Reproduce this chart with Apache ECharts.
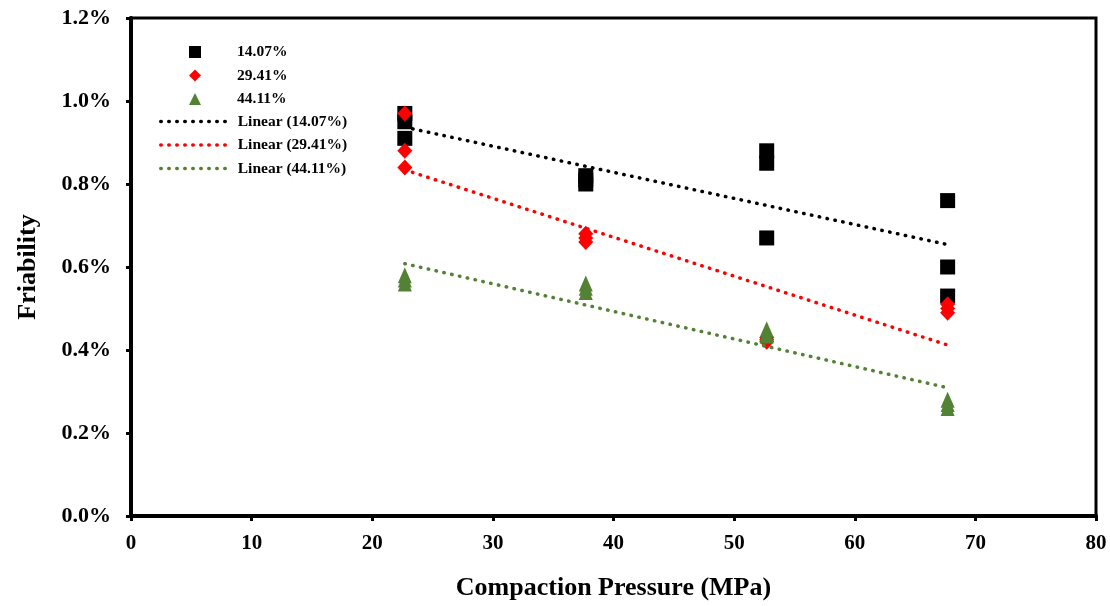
<!DOCTYPE html>
<html>
<head>
<meta charset="utf-8">
<script src="https://cdn.jsdelivr.net/npm/echarts@6/dist/echarts.min.js"></script>
<style>
  html, body { margin: 0; padding: 0; background: #fff; }
  #chart { width: 1110px; height: 606px; }
</style>
</head>
<body>
<div id="chart"></div>
<script>
// compaction pressure (MPa) and friability (%)
var pressures = [22.7, 37.7, 52.7, 67.7];
var fri1407 = [[0.97, 0.95, 0.91], [0.82, 0.81, 0.80], [0.88, 0.85, 0.67], [0.76, 0.60, 0.53]];
var fri2941 = [[0.97, 0.88, 0.84], [0.68, 0.67, 0.66], [0.43, 0.425, 0.42], [0.51, 0.50, 0.49]];
var fri4411 = [[0.58, 0.57, 0.56], [0.56, 0.55, 0.54], [0.45, 0.44, 0.435], [0.28, 0.27, 0.26]];
// trendline end points (first and last pressure)
var trendX = [22.7, 67.7];
var trend1407 = [0.937, 0.654];
var trend2941 = [0.834, 0.412];
var trend4411 = [0.608, 0.309];

var font = "'Liberation Serif', 'Times New Roman', serif";
var green = "#548235";

function points(groups) {
  var out = [];
  groups.forEach(function (g, i) {
    g.forEach(function (v) { out.push([pressures[i], v]); });
  });
  return out;
}
function trend(ys) {
  return trendX.map(function (x, i) { return [x, ys[i]]; });
}
function dotted(color) {
  return { color: color, width: 3.5, type: [0.5, 7.5], cap: "round" };
}
function lineItem(name, color) {
  return { name: name, itemStyle: { opacity: 0 }, lineStyle: dotted(color) };
}

var legendText = { fontFamily: font, fontWeight: "bold", fontSize: 15.5, color: "#000" };

var chart = echarts.init(document.getElementById("chart"));
chart.setOption({
  animation: false,
  grid: {
    left: 131, right: 14, top: 18, bottom: 86,
    show: true, borderColor: "#000", borderWidth: 3
  },
  legend: [{
    orient: "vertical",
    left: 184, top: 39,
    itemWidth: 12, itemHeight: 12, itemGap: 7.5,
    textStyle: Object.assign({ padding: [0, 0, 0, 31] }, legendText),
    data: ["14.07%", "29.41%", "44.11%"]
  }, {
    orient: "vertical",
    left: 154, top: 108.5,
    itemWidth: 72, itemHeight: 12, itemGap: 7.5,
    textStyle: legendText,
    data: [lineItem("Linear (14.07%)", "#000"), lineItem("Linear (29.41%)", "#ff0000"),
      lineItem("Linear (44.11%)", green)]
  }],
  xAxis: {
    type: "value", min: 0, max: 80, interval: 10,
    name: "Compaction Pressure (MPa)", nameLocation: "middle", nameGap: 59,
    nameTextStyle: { fontFamily: font, fontWeight: "bold", fontSize: 26, color: "#000" },
    axisLine: { lineStyle: { color: "#000", width: 4 } },
    axisTick: { length: 5, lineStyle: { color: "#000", width: 3 } },
    axisLabel: { margin: 17, fontFamily: font, fontWeight: "bold", fontSize: 21, color: "#000" },
    splitLine: { show: false }
  },
  yAxis: {
    type: "value", min: 0, max: 1.2, interval: 0.2,
    name: "Friability", nameLocation: "middle", nameGap: 90,
    nameTextStyle: { fontFamily: font, fontWeight: "bold", fontSize: 26, color: "#000" },
    axisLine: { show: true, lineStyle: { color: "#000", width: 4 } },
    axisTick: { show: true, length: 5, lineStyle: { color: "#000", width: 3 } },
    axisLabel: {
      margin: 20, fontFamily: font, fontWeight: "bold", fontSize: 22, color: "#000",
      formatter: function (v) { return v.toFixed(1) + "%"; }
    },
    splitLine: { show: false }
  },
  series: [
    { name: "14.07%", type: "scatter", symbol: "rect", symbolSize: 15,
      itemStyle: { color: "#000", opacity: 1 }, data: points(fri1407) },
    { name: "29.41%", type: "scatter", symbol: "diamond", symbolSize: [15, 16],
      itemStyle: { color: "#ff0000", opacity: 1 }, data: points(fri2941) },
    { name: "44.11%", type: "scatter", symbol: "triangle", symbolSize: [14, 16],
      itemStyle: { color: green, opacity: 1 }, data: points(fri4411) },
    { name: "Linear (14.07%)", type: "line", symbol: "none", lineStyle: dotted("#000"),
      itemStyle: { color: "#000" }, data: trend(trend1407) },
    { name: "Linear (29.41%)", type: "line", symbol: "none", lineStyle: dotted("#ff0000"),
      itemStyle: { color: "#ff0000" }, data: trend(trend2941) },
    { name: "Linear (44.11%)", type: "line", symbol: "none", lineStyle: dotted(green),
      itemStyle: { color: green }, data: trend(trend4411) }
  ]
});
</script>
</body>
</html>
